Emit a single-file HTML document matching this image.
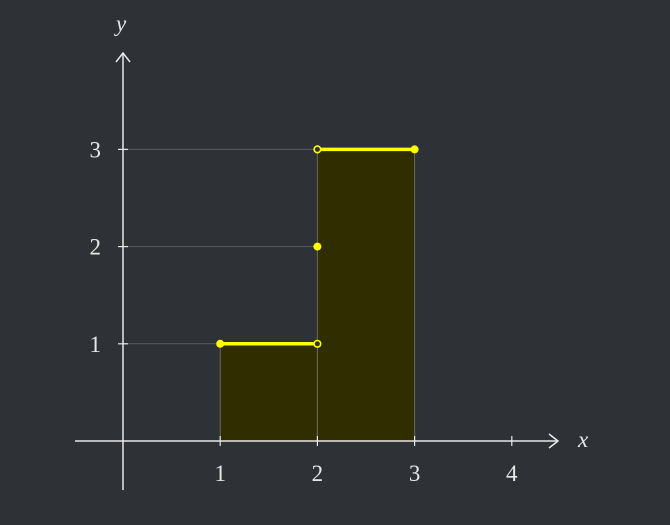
<!DOCTYPE html>
<html><head><meta charset="utf-8"><style>
html,body{margin:0;padding:0;background:#2e3236;}
svg{display:block;}
text{font-family:"Liberation Serif",serif;fill:#e8e8e8;}
</style></head><body>
<svg id="chart" width="670" height="525" viewBox="0 0 670 525"></svg>
<script>
const xTicks = [1, 2, 3, 4];
const yTicks = [1, 2, 3];
const guideEnds = [1, 2, 2];
const stepStarts = [1, 2];
const stepEnds = [2, 3];
const stepValues = [1, 3];
const closedPoints = [[1, 1], [2, 2], [3, 3]];
const openPoints = [[2, 1], [2, 3]];

const X0 = 123, Y0 = 441, UX = 97.2, UY = 97.2;
const sx = v => X0 + v * UX;
const sy = v => Y0 - v * UY;
const svg = document.getElementById('chart');
const NS = 'http://www.w3.org/2000/svg';
function mk(tag, attrs, parent) {
  const e = document.createElementNS(NS, tag);
  for (const k in attrs) e.setAttribute(k, attrs[k]);
  (parent || svg).appendChild(e);
  return e;
}

yTicks.forEach((v, i) => {
  const l = mk('line', {x1: X0, y1: sy(v), x2: sx(guideEnds[i]), y2: sy(v), stroke: '#5a5e62', 'stroke-width': 1});
  
  
});

stepStarts.forEach((s, i) => {
  const r = mk('rect', {x: sx(s), y: sy(stepValues[i]), width: sx(stepEnds[i]) - sx(s), height: sy(0) - sy(stepValues[i]), fill: '#302d00', stroke: '#6a6a5a', 'stroke-width': 1});
  
  
});

const ax = mk('line', {x1: 75, y1: Y0, x2: 558, y2: Y0, stroke: '#e8e8e8', 'stroke-width': 1.5});


mk('polyline', {points: '549,434 558,441 549,448', fill: 'none', stroke: '#e8e8e8', 'stroke-width': 1.5});
const ay = mk('line', {x1: X0, y1: 490, x2: X0, y2: 53, stroke: '#e8e8e8', 'stroke-width': 1.5});


mk('polyline', {points: '116,62 123,53 130,62', fill: 'none', stroke: '#e8e8e8', 'stroke-width': 1.5});

xTicks.forEach(v => {
  mk('line', {x1: sx(v), y1: Y0 - 5, x2: sx(v), y2: Y0 + 5, stroke: '#e8e8e8', 'stroke-width': 1.2});
  const t = mk('text', {x: sx(v), y: 481, 'text-anchor': 'middle', 'font-size': 23});
  t.textContent = v;
  
  
});
yTicks.forEach(v => {
  mk('line', {x1: X0 - 5, y1: sy(v), x2: X0 + 5, y2: sy(v), stroke: '#e8e8e8', 'stroke-width': 1.2});
  const t = mk('text', {x: 101, y: sy(v) + 8, 'text-anchor': 'end', 'font-size': 23});
  t.textContent = v;
  
  
});
const xl = mk('text', {x: 578, y: 447, 'font-size': 23, 'font-style': 'italic'});
xl.textContent = 'x';


const yl = mk('text', {x: 116, y: 31, 'font-size': 23, 'font-style': 'italic'});
yl.textContent = 'y';



stepStarts.forEach((s, i) => {
  const l = mk('line', {x1: sx(s), y1: sy(stepValues[i]), x2: sx(stepEnds[i]), y2: sy(stepValues[i]), stroke: '#ffff00', 'stroke-width': 3.5});
  
  
});
closedPoints.forEach(p => {
  const c = mk('circle', {cx: sx(p[0]), cy: sy(p[1]), r: 4, fill: '#ffff00'});
  
  
});
openPoints.forEach(p => {
  const c = mk('circle', {cx: sx(p[0]), cy: sy(p[1]), r: 3.3, fill: '#2e3236', stroke: '#ffff00', 'stroke-width': 1.6});
  
  
});
</script>
</body></html>
